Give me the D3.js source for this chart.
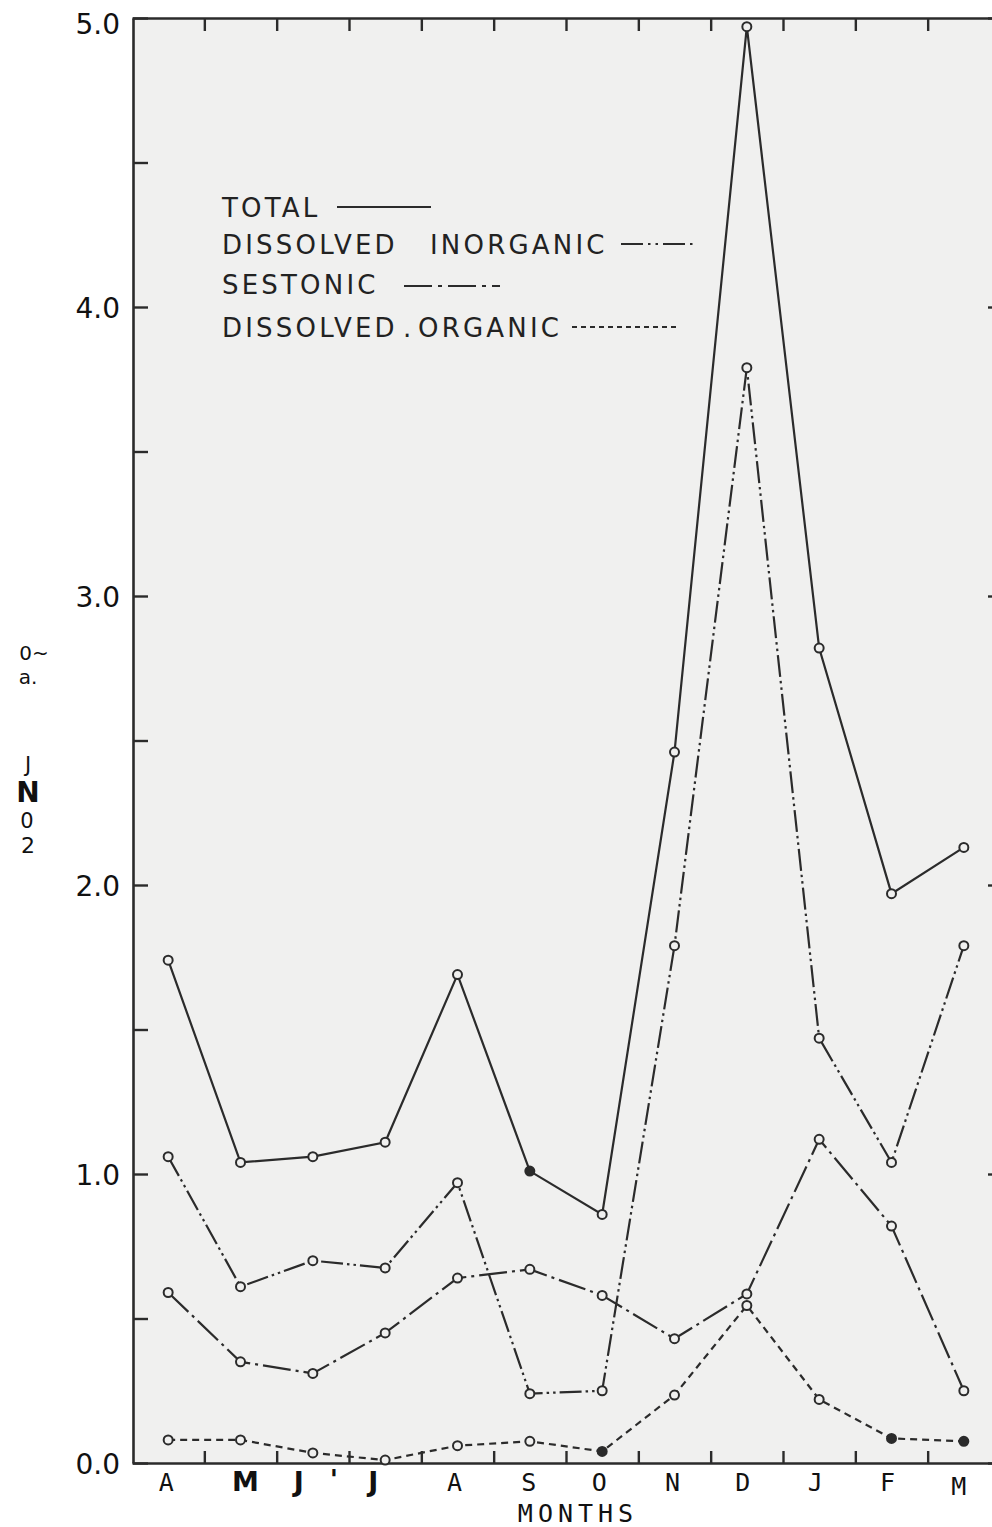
<!DOCTYPE html>
<html>
<head>
<meta charset="utf-8">
<script src="https://cdn.jsdelivr.net/npm/d3@7"></script>
<style>
  html, body { margin: 0; padding: 0; background: #ffffff; }
  svg { display: block; }
</style>
</head>
<body>
<svg id="chart" width="992" height="1527"></svg>
<script>
// Monthly values, April through March
const months = ["A", "M", "J", "J", "A", "S", "O", "N", "D", "J", "F", "M"];
const total      = [1.74, 1.04, 1.06, 1.11, 1.69, 1.01, 0.86, 2.46, 4.97, 2.82, 1.97, 2.13];
const inorganic  = [1.06, 0.61, 0.70, 0.675, 0.97, 0.24, 0.25, 1.79, 3.79, 1.47, 1.04, 1.79];
const sestonic   = [0.59, 0.35, 0.31, 0.45, 0.64, 0.67, 0.58, 0.43, 0.585, 1.12, 0.82, 0.25];
const organic    = [0.08, 0.08, 0.035, 0.01, 0.06, 0.075, 0.04, 0.235, 0.545, 0.22, 0.085, 0.075];
// points plotted as solid dots rather than open circles
const totalSolid   = [5];
const organicSolid = [6, 10, 11];

const yTickValues = [0, 0.5, 1, 1.5, 2, 2.5, 3, 3.5, 4, 4.5, 5];

const ink = "#2b2b2b";
const svg = d3.select("#chart");

const plotLeft = 133, plotRight = 1000, plotTop = 18, plotBottom = 1463;
const x = d3.scaleBand().domain(d3.range(months.length)).range([plotLeft - 1, plotRight]);
const y = d3.scaleLinear().domain([0, 5]).range([plotBottom, plotTop]);
const cx = i => x(i) + x.bandwidth() / 2;

// plot panel
svg.append("rect")
  .attr("x", plotLeft).attr("y", plotTop)
  .attr("width", plotRight - plotLeft).attr("height", plotBottom - plotTop)
  .attr("fill", "#f0f0ef");

// band boundaries for month ticks
const bounds = d3.range(1, months.length).map(i => x(i));
const xb = d3.scaleLinear().domain([plotLeft - 1, plotRight]).range([plotLeft - 1, plotRight]);

function styleAxis(g) {
  g.selectAll(".domain").attr("stroke", ink).attr("stroke-width", 2.6);
  g.selectAll(".tick line").attr("stroke", ink).attr("stroke-width", 2.4);
}

svg.append("g").attr("transform", `translate(0,${plotBottom})`)
  .call(d3.axisBottom(xb).tickValues(bounds).tickSizeInner(-12).tickSizeOuter(0).tickFormat(""))
  .call(styleAxis);
svg.append("g").attr("transform", `translate(0,${plotTop})`)
  .call(d3.axisTop(xb).tickValues(bounds).tickSizeInner(-13).tickSizeOuter(0).tickFormat(""))
  .call(styleAxis);

const yAxis = svg.append("g").attr("transform", `translate(${plotLeft},0)`)
  .call(d3.axisLeft(y).tickValues(yTickValues).tickSizeInner(-15).tickSizeOuter(0).tickPadding(13)
    .tickFormat(d => Number.isInteger(d) ? d3.format(".1f")(d) : ""))
  .call(styleAxis);
yAxis.selectAll("text")
  .attr("font-family", "DejaVu Sans").attr("font-size", 28).attr("fill", "#111")
  .attr("dy", "0.36em")
  .attr("y", d => d === 5 ? 5 : 0);

svg.append("g").attr("transform", `translate(${plotRight},0)`)
  .call(d3.axisRight(y).tickValues(yTickValues).tickSizeInner(-12).tickSizeOuter(0).tickFormat(""))
  .call(styleAxis)
  .selectAll(".tick line").attr("x2", d => Number.isInteger(d) ? -12 : -5);

// series lines
const series = [
  { values: total,     dash: null,                 solid: totalSolid },
  { values: inorganic, dash: "22,4,2.5,4,2.5,4",   solid: [] },
  { values: sestonic,  dash: "28,5,3,5",           solid: [] },
  { values: organic,   dash: "7,5",                solid: organicSolid }
];

const line = d3.line().x((d, i) => cx(i)).y(d => y(d));

series.forEach(s => {
  svg.append("path")
    .datum(s.values)
    .attr("d", line)
    .attr("fill", "none")
    .attr("stroke", ink)
    .attr("stroke-width", 2.2)
    .attr("stroke-dasharray", s.dash);
  svg.append("g").selectAll("circle")
    .data(s.values)
    .join("circle")
    .attr("cx", (d, i) => cx(i))
    .attr("cy", d => y(d))
    .attr("r", 4.5)
    .attr("fill", (d, i) => s.solid.includes(i) ? ink : "#f0f0ef")
    .attr("stroke", ink)
    .attr("stroke-width", 2);
});

// legend: each row is a list of words with their left edges
const legendRows = [
  { words: [["TOTAL", 222]], base: 217, lineY: 207, x1: 337, x2: 431, dash: null },
  { words: [["DISSOLVED", 222], ["INORGANIC", 430]], base: 254, lineY: 244, x1: 621, x2: 697, dash: "22,5,2.5,5,2.5,5" },
  { words: [["SESTONIC", 222]], base: 294, lineY: 286, x1: 404, x2: 500, dash: "28,6,4,6" },
  { words: [["DISSOLVED", 222], [".", 403], ["ORGANIC", 418]], base: 337, lineY: 327, x1: 572, x2: 680, dash: "5,4" }
];
legendRows.forEach(r => {
  r.words.forEach(([w, wx]) => {
    svg.append("text")
      .attr("x", wx).attr("y", r.base)
      .attr("font-family", "DejaVu Sans").attr("font-size", 26)
      .attr("letter-spacing", w === "." ? 0 : 3.2).attr("fill", "#222")
      .text(w);
  });
  svg.append("line")
    .attr("x1", r.x1).attr("x2", r.x2).attr("y1", r.lineY).attr("y2", r.lineY)
    .attr("stroke", ink).attr("stroke-width", 2.2)
    .attr("stroke-dasharray", r.dash);
});

// month labels
const monthStyle = [
  { dx: -2, bold: false }, { dx: 5, bold: true }, { dx: -14, bold: true }, { dx: -12, bold: true },
  { dx: -3, bold: false }, { dx: -1, bold: false }, { dx: -3, bold: false }, { dx: -2, bold: false },
  { dx: -4, bold: false }, { dx: -4, bold: false }, { dx: -4, bold: false }, { dx: -5, bold: false, dy: 4 }
];
months.forEach((m, i) => {
  const st = monthStyle[i];
  svg.append("text")
    .attr("x", cx(i) + st.dx).attr("y", 1491 + (st.dy || 0))
    .attr("text-anchor", "middle")
    .attr("font-family", st.bold ? "DejaVu Sans" : "DejaVu Sans Mono")
    .attr("font-weight", st.bold ? "bold" : "normal")
    .attr("font-size", st.bold ? 27 : 25)
    .attr("fill", "#111")
    .text(m);
});
svg.append("text")
  .attr("x", (cx(2) + cx(3)) / 2 - 15).attr("y", 1489)
  .attr("text-anchor", "middle")
  .attr("font-family", "DejaVu Sans").attr("font-weight", "bold").attr("font-size", 27)
  .attr("fill", "#111").text("'");

svg.append("text")
  .attr("x", 578).attr("y", 1522)
  .attr("text-anchor", "middle")
  .attr("font-family", "DejaVu Sans Mono").attr("font-size", 25)
  .attr("letter-spacing", 5).attr("fill", "#111")
  .text("MONTHS");

// vertical axis caption
const caption = [
  { t: "0~", x: 34, y: 660, size: 20, bold: false },
  { t: "a.", x: 28, y: 684, size: 20, bold: false },
  { t: "J",  x: 28, y: 772, size: 21, bold: false },
  { t: "N",  x: 28, y: 802, size: 28, bold: true },
  { t: "0",  x: 27, y: 828, size: 21, bold: false },
  { t: "2",  x: 28, y: 853, size: 22, bold: false }
];
caption.forEach(c => {
  svg.append("text")
    .attr("x", c.x).attr("y", c.y)
    .attr("text-anchor", "middle")
    .attr("font-family", "DejaVu Sans")
    .attr("font-weight", c.bold ? "bold" : "normal")
    .attr("font-size", c.size)
    .attr("fill", "#111")
    .text(c.t);
});
</script>
</body>
</html>
